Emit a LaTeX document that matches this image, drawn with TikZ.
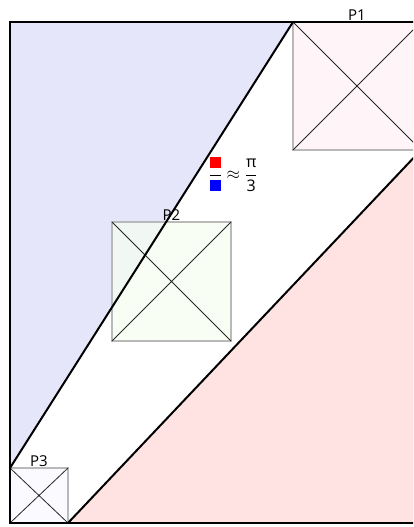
\documentclass[tikz,border=0pt]{standalone}
\usepackage{fontspec}
\setmainfont{Open Sans}
\usepackage{tikz}
\definecolor{StripBlue}{HTML}{E6E6FA}
\definecolor{StripPink}{HTML}{FFE2E2}
\definecolor{TileRose}{HTML}{FFF2F7}
\definecolor{TileMint}{HTML}{F6FEF0}
\definecolor{TileLilac}{HTML}{F8F8FF}
\tikzset{
  edge/.style={line width=2pt,draw=black},
  tile/.style={draw=gray!55,line width=1.3pt,fill opacity=0.75},
  cross/.style={line width=0.8pt,draw=black!85},
  tag/.style={font=\fontsize{15}{17}\selectfont,inner sep=1.5pt}
}

\begin{document}
\begin{tikzpicture}[x=1pt,y=-1pt]
  \useasboundingbox (0,0) rectangle (413,527);
  \clip (0,0) rectangle (413,527);
  % outer frame and cut points
  \coordinate (tl) at (10,22);
  \coordinate (br) at (421,523);
  \coordinate (a) at (293,22);
  \coordinate (b) at (10,468);
  \coordinate (c) at (68,523);
  \coordinate (d) at (421,150);
  % shaded corners
  \fill[StripBlue] (tl) -- (a) -- (b) -- cycle;
  \fill[StripPink] (c) -- (br |- c) -- (d) -- cycle;
  % the three squares
  \foreach \tilename/\xa/\ya/\xb/\yb/\shade in
      {P1/293/22/421/150/TileRose,P2/112/222/231/341/TileMint,P3/10/468/68/523/TileLilac}{
    \filldraw[tile,fill=\shade] (\xa,\ya) rectangle (\xb,\yb);
    \draw[cross] (\xa,\ya) -- (\xb,\yb) (\xa,\yb) -- (\xb,\ya);
    \node[tag,anchor=south] (\tilename) at ({(\xa+\xb)/2},\ya) {\tilename};
  }
  % frame and the two cuts
  \draw[edge] (tl) rectangle (br);
  \draw[edge] (a) -- (b);
  \draw[edge] (c) -- (d);
  % ratio
  \node[font=\fontsize{16}{19}\selectfont,inner sep=0pt] (ratio) at (233,174)
    {$\displaystyle\frac{\textcolor{red}{\rule{11pt}{11pt}}}{\textcolor{blue}{\rule{11pt}{11pt}}}\approx\frac{\mbox{π}}{\mbox{3}}$};
\end{tikzpicture}
\end{document}
